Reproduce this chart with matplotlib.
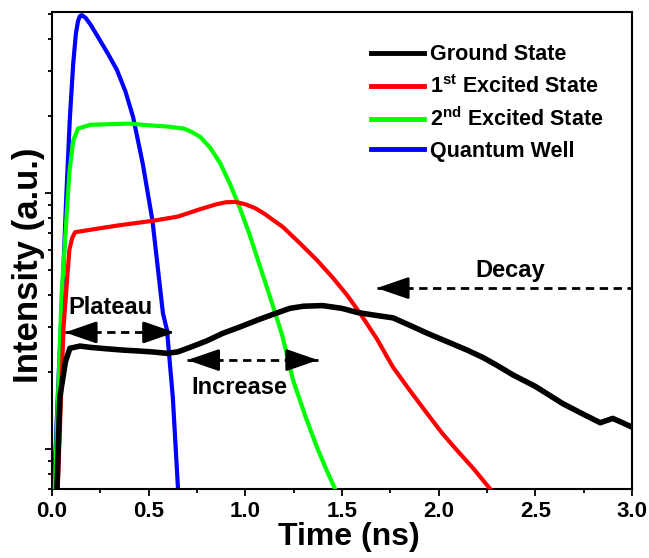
import matplotlib
matplotlib.use('Agg')
from matplotlib import pyplot as plt
from matplotlib.ticker import LogLocator, NullFormatter, MultipleLocator

plt.rcParams['font.family'] = ['Liberation Sans', 'DejaVu Sans']
plt.rcParams['font.weight'] = 'bold'
plt.rcParams['mathtext.fontset'] = 'custom'
plt.rcParams['mathtext.rm'] = 'Liberation Sans:bold'
plt.rcParams['mathtext.it'] = 'Liberation Sans:bold'
plt.rcParams['mathtext.bf'] = 'Liberation Sans:bold'

# values (time in ns, intensity in a.u., log scale)
gs_t = [0.026, 0.041, 0.07, 0.093, 0.145, 0.2, 0.28, 0.367, 0.45, 0.52, 0.595, 0.65,
        0.714, 0.8, 0.885, 0.97, 1.06, 1.15, 1.23, 1.3, 1.4, 1.5, 1.58, 1.68, 1.764,
        1.85, 1.94, 2.05, 2.147, 2.23, 2.30, 2.385, 2.5, 2.64, 2.74, 2.835, 2.90, 2.95, 3.0]
gs_i = [0.7, 1.6, 2.2, 2.48, 2.53, 2.5, 2.47, 2.44, 2.42, 2.4, 2.37, 2.4,
        2.5, 2.65, 2.84, 3.0, 3.19, 3.38, 3.55, 3.62, 3.64, 3.55, 3.42, 3.33, 3.26,
        3.05, 2.84, 2.62, 2.44, 2.28, 2.13, 1.95, 1.76, 1.51, 1.38, 1.27, 1.32, 1.27, 1.22]

es1_t = [0.03, 0.06, 0.09, 0.105, 0.12, 0.2, 0.35, 0.52, 0.65, 0.766, 0.85, 0.9, 0.95,
         1.0, 1.05, 1.1, 1.195, 1.28, 1.37, 1.45, 1.526, 1.593, 1.68, 1.764, 1.85, 1.94,
         2.02, 2.095, 2.18, 2.266]
es1_i = [0.7, 3.0, 6.0, 6.7, 7.04, 7.2, 7.5, 7.8, 8.1, 8.66, 9.05, 9.22, 9.25,
         9.05, 8.75, 8.3, 7.37, 6.4, 5.48, 4.7, 4.0, 3.4, 2.7, 2.09, 1.7, 1.38,
         1.15, 0.99, 0.84, 0.7]

es2_t = [0.015, 0.05, 0.09, 0.11, 0.135, 0.2, 0.3, 0.4, 0.507, 0.6, 0.68, 0.72, 0.766,
         0.817, 0.87, 0.92, 0.97, 1.02, 1.075, 1.128, 1.19, 1.247, 1.31, 1.37, 1.42, 1.464]
es2_i = [0.7, 4.0, 12.0, 16.0, 17.9, 18.5, 18.6, 18.7, 18.4, 18.2, 17.9, 17.4, 16.6,
         15.1, 13.1, 10.9, 8.83, 6.97, 5.2, 3.93, 2.8, 1.86, 1.35, 1.02, 0.83, 0.7]

qw_t = [0.01, 0.03, 0.057, 0.075, 0.093, 0.11, 0.124, 0.135, 0.145, 0.155, 0.175, 0.2,
        0.248, 0.29, 0.336, 0.38, 0.42, 0.47, 0.52, 0.574, 0.595, 0.625, 0.652]
qw_i = [0.7, 1.6, 4.58, 10.0, 19.8, 32.0, 42.0, 47.0, 49.2, 49.6, 48.3, 45.5,
        39.6, 35.0, 30.3, 25.0, 19.8, 13.0, 7.8, 3.4, 2.92, 1.6, 0.7]

labels = ['Ground State', '1$^{\\mathrm{st}}$ Excited State',
          '2$^{\\mathrm{nd}}$ Excited State', 'Quantum Well']
colors = ['#000000', '#ff0000', '#00ff00', '#0000ff']

fig = plt.figure(figsize=(6.49, 5.58), dpi=100)
ax = fig.add_axes([0.080, 0.1237, 0.894, 0.8548])

ax.plot(gs_t, gs_i, color=colors[0], lw=4, label=labels[0], zorder=5)
ax.plot(es1_t, es1_i, color=colors[1], lw=3, label=labels[1], zorder=4)
ax.plot(es2_t, es2_i, color=colors[2], lw=3, label=labels[2], zorder=3)
ax.plot(qw_t, qw_i, color=colors[3], lw=3, label=labels[3], zorder=2)

ax.set_yscale('log')
ax.set_xlim(0, 3.0)
ax.set_ylim(0.7, 51)
ax.xaxis.set_major_locator(MultipleLocator(0.5))
ax.xaxis.set_minor_locator(MultipleLocator(0.25))
ax.yaxis.set_major_locator(LogLocator(base=10))
ax.yaxis.set_minor_locator(LogLocator(base=10, subs=range(2, 10)))
ax.yaxis.set_major_formatter(NullFormatter())
ax.yaxis.set_minor_formatter(NullFormatter())

for s in ax.spines.values():
    s.set_linewidth(1.5)
ax.tick_params(axis='both', which='major', direction='out', length=5, width=1.3,
               labelsize=16, top=False, right=False)
ax.tick_params(axis='both', which='minor', direction='out', length=3, width=1.3,
               top=False, right=False)
for lab in ax.get_xticklabels():
    lab.set_fontweight('bold')

ax.set_xlabel('Time (ns)', fontsize=23, fontweight='bold')
ax.xaxis.set_label_coords(0.512, -0.069)
ax.set_ylabel('Intensity (a.u.)', fontsize=25, fontweight='bold')
ax.yaxis.set_label_coords(-0.012, 0.47)

leg = ax.legend(loc='upper left', bbox_to_anchor=(0.535, 0.95), frameon=False,
                fontsize=15.5, handlelength=2.45, handletextpad=0.3, labelspacing=0.45,
                borderaxespad=0.0)
for txt in leg.get_texts():
    txt.set_fontweight('bold')
for line in leg.get_lines():
    line.set_linewidth(3.5)


def dashed_arrow(x0, x1, y, both):
    ax.plot([x0, x1], [y, y], color='black', lw=2, ls=(0, (3, 2)), zorder=6)
    style = '-|>,head_length=1.3,head_width=0.45'
    span = 0.12
    ax.annotate('', xy=(x0, y), xytext=(x0 + span, y),
                arrowprops=dict(arrowstyle=style, color='black', lw=2,
                                mutation_scale=15, shrinkA=0, shrinkB=0), zorder=6)
    if both:
        ax.annotate('', xy=(x1, y), xytext=(x1 - span, y),
                    arrowprops=dict(arrowstyle=style, color='black', lw=2,
                                    mutation_scale=15, shrinkA=0, shrinkB=0), zorder=6)


dashed_arrow(0.067, 0.636, 2.86, True)
dashed_arrow(0.70, 1.376, 2.23, True)
dashed_arrow(1.68, 3.0, 4.26, False)

ax.text(0.30, 3.59, 'Plateau', fontsize=17, fontweight='bold', ha='center', va='center')
ax.text(0.967, 1.75, 'Increase', fontsize=17, fontweight='bold', ha='center', va='center')
ax.text(2.37, 5.0, 'Decay', fontsize=17, fontweight='bold', ha='center', va='center')

fig.savefig('out.png', dpi=100)
